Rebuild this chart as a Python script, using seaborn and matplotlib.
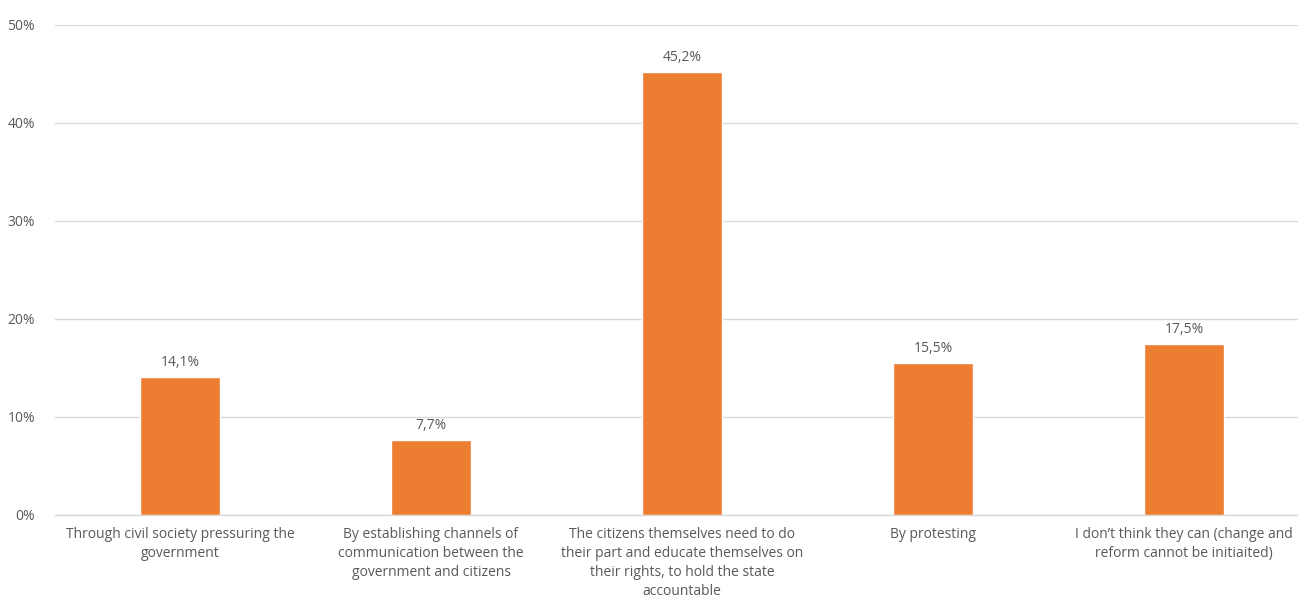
import matplotlib
matplotlib.use("Agg")
import matplotlib.pyplot as plt
import seaborn as sns
import pandas as pd
from matplotlib.ticker import PercentFormatter

categories = [
    "Through civil society pressuring the\ngovernment",
    "By establishing channels of\ncommunication between the\ngovernment and citizens",
    "The citizens themselves need to do\ntheir part and educate themselves on\ntheir rights, to hold the state\naccountable",
    "By protesting",
    "I don\u2019t think they can (change and\nreform cannot be initiaited)",
]
values = [14.1, 7.7, 45.2, 15.5, 17.5]
value_labels = ["14,1%", "7,7%", "45,2%", "15,5%", "17,5%"]
y_ticks = [0, 10, 20, 30, 40, 50]

sns.set_theme(style="white")
plt.rcParams["font.family"] = ["Open Sans", "DejaVu Sans"]

TEXT = "#595959"
ORANGE = "#ED7D31"
GRID = "#D9D9D9"

df = pd.DataFrame({"answer": categories, "share": values})

fig = plt.figure(figsize=(12.98, 6.01), dpi=100)
ax = fig.add_axes([54.5 / 1298, 86 / 601, 1255 / 1298, 490 / 601])

sns.barplot(data=df, x="answer", y="share", color=ORANGE, saturation=1,
            width=0.315, ax=ax, zorder=3)

ax.set_xlim(-0.5, len(categories) - 0.5)
ax.set_ylim(0, 50)
ax.set_yticks(y_ticks)
ax.yaxis.set_major_formatter(PercentFormatter(decimals=0))
ax.grid(axis="y", color=GRID, linewidth=1, zorder=0)
ax.set_axisbelow(True)
for side in ["top", "right", "left"]:
    ax.spines[side].set_visible(False)
ax.spines["bottom"].set_color(GRID)
ax.spines["bottom"].set_linewidth(1)

ax.set_xlabel("")
ax.set_ylabel("")
ax.tick_params(axis="both", length=0, colors=TEXT, labelsize=10)
ax.tick_params(axis="y", pad=14)
ax.tick_params(axis="x", pad=9)
for lab in ax.get_xticklabels():
    lab.set_linespacing(1.35)
    lab.set_color(TEXT)

for i, (v, txt) in enumerate(zip(values, value_labels)):
    ax.annotate(txt, xy=(i, v), xytext=(0, 5), textcoords="offset points",
                ha="center", va="bottom", fontsize=10, color=TEXT)

fig.savefig("out.png", dpi=100, facecolor="white")
